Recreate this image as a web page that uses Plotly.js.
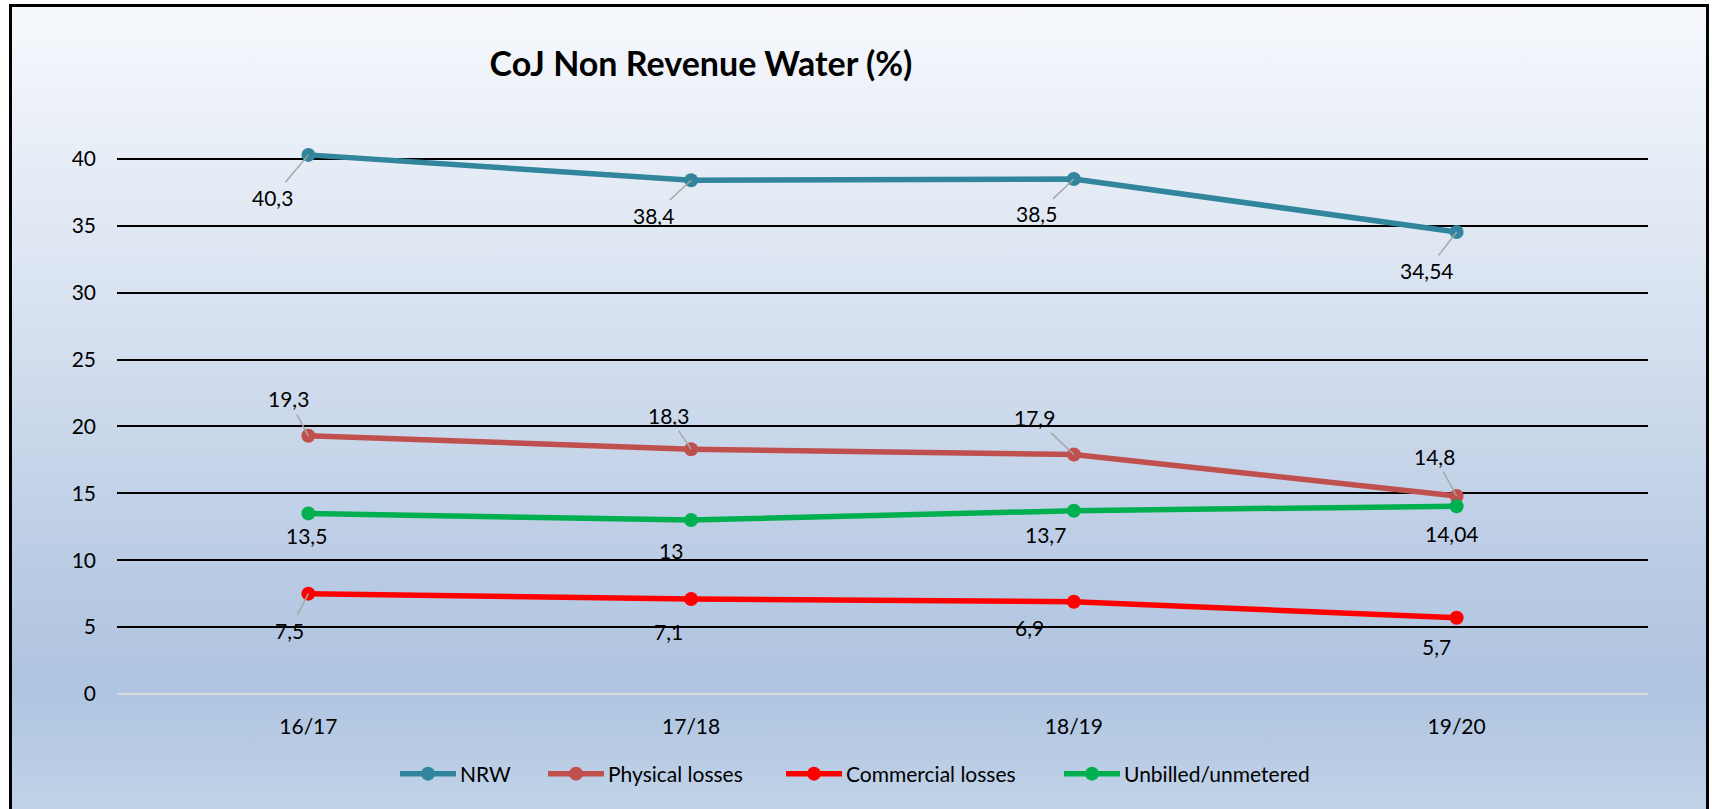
<!DOCTYPE html>
<html>
<head>
<meta charset="utf-8">
<script src="https://cdn.plot.ly/plotly-3.0.1.min.js"></script>
<style>
  html, body { margin: 0; padding: 0; background: #ffffff; width: 1712px; height: 809px; overflow: hidden; }
  #frame {
    position: absolute; left: 9px; top: 4px; width: 1694px; height: 830px;
    border: 3px solid #000;
    background: linear-gradient(to bottom, #f6f8fc 0%, #e4ebf5 22%, #d0dced 45%, #bccde5 65%, #afc4e0 82%, #b8cce4 90%, #c6d6ea 100%);
  }
  #chart { position: absolute; left: 0; top: 0; width: 1712px; height: 809px; }
</style>
</head>
<body>
<div id="frame"></div>
<div id="chart"></div>
<script>
// ---- data ----
const categories = ['16/17', '17/18', '18/19', '19/20'];
const nrw        = [40.3, 38.4, 38.5, 34.54];
const physical   = [19.3, 18.3, 17.9, 14.8];
const commercial = [7.5, 7.1, 6.9, 5.7];
const unbilled   = [13.5, 13, 13.7, 14.04];
const seriesNames = ['NRW', 'Physical losses', 'Commercial losses', 'Unbilled/unmetered'];
const yTicks = [0, 5, 10, 15, 20, 25, 30, 35, 40];

// ---- styling ----
const colors = ['#31859C', '#C0504D', '#FF0000', '#00B050'];
const FONT = 'Lato, "Open Sans", sans-serif';
// label offsets in pixels [ax, ay] and whether a leader line is shown
const labelStyle = [
  [[-36, 43, true], [-38, 35, true], [-37, 35, true], [-30, 39, true]],
  [[-20, -37, true], [-23, -34, true], [-39, -37, true], [-22, -40, true]],
  [[-19, 37, true], [-23, 32, false], [-44, 26, false], [-20, 29, false]],
  [[-2, 22, false], [-20, 30, false], [-28, 24, false], [-5, 27, false]]
];
// legend item line-start positions (page px) for the long Excel-style legend keys
const legendKeyStarts = [400, 548, 786, 1064];

const allSeries = [nrw, physical, commercial, unbilled];
const fmt = v => String(v).replace('.', ',');

const traces = allSeries.map((vals, i) => ({
  type: 'scatter', mode: 'lines+markers',
  x: categories, y: vals, name: seriesNames[i],
  line: { color: colors[i], width: 5.5 },
  marker: { color: colors[i], size: 14 },
  hoverinfo: 'skip'
}));

const annotations = [];
allSeries.forEach((vals, i) => {
  vals.forEach((v, j) => {
    const s = labelStyle[i][j];
    annotations.push({
      x: categories[j], y: v, xref: 'x', yref: 'y',
      text: fmt(v), showarrow: true, arrowhead: 0,
      arrowwidth: 1.5, arrowcolor: s[2] ? '#a6a6a6' : 'rgba(0,0,0,0)',
      ax: s[0], ay: s[1], standoff: 0, startstandoff: 2,
      font: { family: FONT, size: 21, color: '#000' }
    });
  });
});

const layout = {
  width: 1712, height: 809,
  paper_bgcolor: 'rgba(0,0,0,0)', plot_bgcolor: 'rgba(0,0,0,0)',
  margin: { l: 117, r: 64, t: 92, b: 115 },
  font: { family: FONT, size: 21, color: '#000' },
  title: {
    text: '<b>CoJ Non Revenue Water (%)</b>',
    x: 701 / 1712, xref: 'container', xanchor: 'center',
    y: 1 - 64 / 809, yref: 'container', yanchor: 'middle',
    font: { family: FONT, size: 34, color: '#000' }
  },
  xaxis: {
    type: 'category', range: [-0.5, 3.5], showgrid: false, showline: false, zeroline: false,
    ticks: '', ticklabelstandoff: 18, tickfont: { size: 21 }
  },
  yaxis: {
    range: [0, 45], tickvals: yTicks, ticktext: yTicks.map(String),
    showgrid: true, gridcolor: '#000', gridwidth: 2,
    zeroline: true, zerolinecolor: '#d9d9d9', zerolinewidth: 2,
    showline: false, ticks: '', ticklabelstandoff: 20, tickfont: { size: 21 }
  },
  showlegend: true,
  legend: {
    orientation: 'h', xref: 'container', yref: 'container',
    x: 860 / 1712, xanchor: 'center', y: 1 - 774 / 809, yanchor: 'middle',
    font: { family: FONT, size: 21 }, bgcolor: 'rgba(0,0,0,0)',
    itemwidth: 40
  },
  annotations: annotations
};

Plotly.newPlot('chart', traces, layout, { staticPlot: true, displayModeBar: false }).then(gd => {
  try {
    const legend = gd.querySelector('.legend');
    if (!legend) return;
    legend.querySelectorAll('[clip-path]').forEach(e => e.removeAttribute('clip-path'));
    if (legend.hasAttribute('clip-path')) legend.removeAttribute('clip-path');
    const items = legend.querySelectorAll('g.traces');
    if (!items.length) return;
    const parseT = el => {
      const m = /translate\(\s*([-\d.]+)[ ,]+([-\d.]+)/.exec(el.getAttribute('transform') || '');
      return m ? [parseFloat(m[1]), parseFloat(m[2])] : [0, 0];
    };
    const t0 = parseT(items[0]);
    const rootLeft = gd.getBoundingClientRect().left;
    const line0 = items[0].querySelector('.legendlines path');
    const abs0 = line0.getBoundingClientRect().left - rootLeft - 5;
    items.forEach((g, i) => {
      const t = parseT(g);
      const nx = t0[0] + (legendKeyStarts[i] - 5 - abs0);
      g.setAttribute('transform', 'translate(' + nx + ',' + t[1] + ')');
      const lp = g.querySelector('.legendlines path');
      if (lp) lp.setAttribute('d', 'M5,0h56');
      g.querySelectorAll('.legendsymbols path.scatterpts').forEach(p => p.setAttribute('transform', 'translate(33,0)'));
      const tx = g.querySelector('text.legendtext');
      if (tx) tx.setAttribute('x', 65);
    });
  } catch (e) { /* keep default legend */ }
});
</script>
</body>
</html>
